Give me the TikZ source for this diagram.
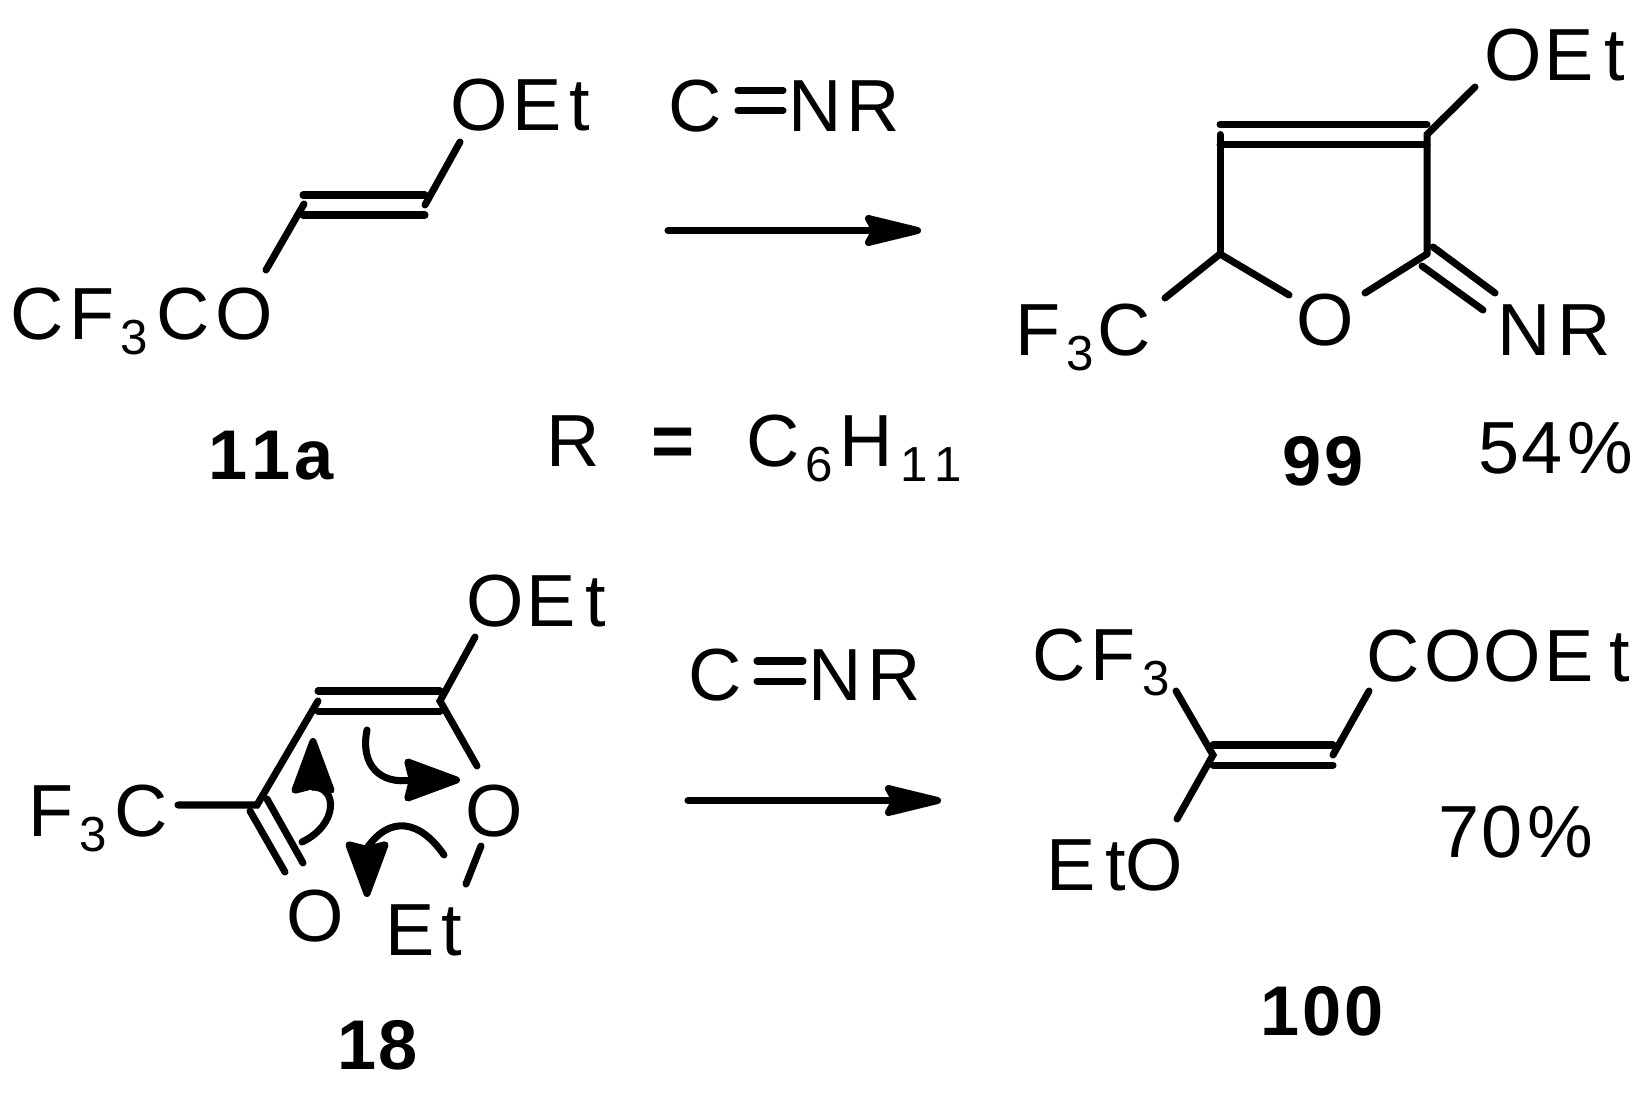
\documentclass[tikz,border=0pt]{standalone}
\usepackage{fontspec}
\setmainfont{Liberation Sans}
\usetikzlibrary{arrows.meta}
\newdimen\pxunit
\pxunit=0.01cm
\newcommand{\lgap}[1]{\kern#1\pxunit}
\newcommand{\lowdigit}[1]{\raisebox{-15\pxunit}{\fontsize{14}{16}\selectfont #1}}
\newcommand{\eqbond}[2]{%
  \draw[bond] ([yshift=1mm]#1) -- ([yshift=1mm]#2);
  \draw[bond] ([yshift=-1mm]#1) -- ([yshift=-1mm]#2);
}
\tikzset{
  bond/.style={line width=2pt,line cap=round},
  rxn/.style={line width=2pt,line cap=round,-{Stealth[length=20pt,width=9.5pt,inset=2.5pt,round]}},
  curl/.style={line width=2pt,line cap=round,-{Stealth[length=18pt,width=13pt,inset=1.5pt,round]}},
  atom/.style={anchor=base west},
  cmpd/.style={anchor=base,font=\fontsize{20}{24}\selectfont\bfseries}
}
\begin{document}
\begin{tikzpicture}[
      x=0.01cm,y=-0.01cm,
      every node/.style={inner sep=0pt,font=\fontsize{21}{25}\selectfont}
    ]
      \useasboundingbox (0,0) rectangle (1652,1103);

      \node[atom] (oetA) at (449.4,130) {O\lgap{5}E\lgap{8}t};
      \node[atom] (cfA) at (9.6,339) {C\lgap{6}F\lgap{6}\lowdigit{3}\lgap{8}C\lgap{6}O};
      \node[cmpd] (labelA) at (271,479) {1\lgap{4}1\lgap{4}a};
      \coordinate (oetAb) at (460,142);
      \coordinate (vA1) at (425,205);
      \coordinate (vA2) at (303,205);
      \coordinate (vA3) at (304,204);
      \coordinate (cfAb) at (266,270);
      \draw[bond] (oetAb) -- (vA1);
      \draw[bond] (vA3) -- (cfAb);
      \eqbond{vA2}{vA1}

      \node[atom] (isoAc) at (668,131) {C};
      \node[atom] (isoAn) at (787.5,131) {N\lgap{5}R};
      \coordinate (isoAl) at (738,100.5);
      \coordinate (isoAr) at (783,100.5);
      \eqbond{isoAl}{isoAr}
      \coordinate (arrAs) at (668,230.5);
      \coordinate (arrAe) at (921,230.5);
      \draw[rxn] (arrAs) -- (arrAe);

      \node[atom] (rdef) at (546,466) {R};
      \node[atom] (rdefeq) at (651,466) {\bfseries =};
      \node[atom] (rdefval) at (745.5,466) {C\lgap{6}\lowdigit{6}\lgap{7}H\lgap{7}\lowdigit{1\lgap{7}1}};

      \node[atom] (oetB) at (1483.4,80) {O\lgap{3}E\lgap{11}t};
      \node[atom] (cfB) at (1015,355) {F\lgap{5.5}\lowdigit{3}\lgap{4}C};
      \node[atom] (oB) at (1295.4,345) {O};
      \node[atom] (nrB) at (1496.4,355) {N\lgap{7}R};
      \node[cmpd] (labelB) at (1323.5,485) {9\lgap{3}9};
      \node[atom] (yieldB) at (1478,473) {5\lgap{2}4\lgap{5}\%};
      \coordinate (vB1) at (1220,134.5);
      \coordinate (vB2) at (1427,134.5);
      \coordinate (vB3) at (1220,254);
      \coordinate (vB4) at (1427,254);
      \coordinate (oetBb) at (1475,87);
      \coordinate (cfBb) at (1165,298);
      \coordinate (oBl) at (1289,295);
      \coordinate (oBr) at (1365,293);
      \eqbond{vB1}{vB2}
      \draw[bond] (oetBb) -- (vB2) -- (vB4);
      \draw[bond] (vB1) -- (vB3);
      \draw[bond] (cfBb) -- (vB3) -- (oBl);
      \draw[bond] (oBr) -- (vB4);
      \coordinate (imB1) at (1433,247);
      \coordinate (imB2) at (1495,293);
      \coordinate (imB3) at (1422,266);
      \coordinate (imB4) at (1483,310);
      \draw[bond] (imB1) -- (imB2);
      \draw[bond] (imB3) -- (imB4);

      \node[atom] (oetC) at (465.4,626) {O\lgap{3}E\lgap{10}t};
      \node[atom] (cfC) at (28,836) {F\lgap{5.5}\lowdigit{3}\lgap{8}C};
      \node[atom] (oC) at (465,836) {O};
      \node[atom] (okC) at (285.4,941) {O};
      \node[atom] (etC) at (385,955) {E\lgap{7}t};
      \node[cmpd] (labelC) at (378,1069) {1\lgap{2}8};
      \coordinate (vC1) at (318,701);
      \coordinate (vC2) at (440,701);
      \coordinate (vC3) at (257,805);
      \coordinate (oetCb) at (475,637);
      \coordinate (oCa) at (477,766);
      \coordinate (cfCb) at (178,805);
      \coordinate (oCb) at (481,846);
      \coordinate (etCb) at (466,884);
      \eqbond{vC1}{vC2}
      \draw[bond] (oetCb) -- (vC2) -- (oCa);
      \draw[bond] (vC1) -- (vC3) -- (cfCb);
      \draw[bond] (oCb) -- (etCb);
      \coordinate (okC1) at (267,799);
      \coordinate (okC2) at (303,863);
      \coordinate (okC3) at (250,811);
      \coordinate (okC4) at (285,872);
      \draw[bond] (okC1) -- (okC2);
      \draw[bond] (okC3) -- (okC4);
      \coordinate (curlAs) at (302,842);
      \coordinate (curlAn) at (313,787);
      \coordinate (curlAt) at (313,738);
      \coordinate (curlBs) at (367,730);
      \coordinate (curlBn) at (412,780);
      \coordinate (curlBt) at (460,780);
      \coordinate (curlCs) at (444,855);
      \coordinate (curlCn) at (367,848);
      \coordinate (curlCt) at (367,897);
      \draw[curl] (curlAs) .. controls (338,825) and (338,787) .. (curlAn) -- (curlAt);
      \draw[curl] (curlBs) .. controls (360,765) and (380,785) .. (curlBn) -- (curlBt);
      \draw[curl] (curlCs) .. controls (420,820) and (390,815) .. (curlCn) -- (curlCt);

      \node[atom] (isoCc) at (687.4,700) {C};
      \node[atom] (isoCn) at (807.4,700) {N\lgap{6}R};
      \coordinate (isoCl) at (757,671);
      \coordinate (isoCr) at (803,671);
      \eqbond{isoCl}{isoCr}
      \coordinate (arrCs) at (688,800.5);
      \coordinate (arrCe) at (941,800.5);
      \draw[rxn] (arrCs) -- (arrCe);

      \node[atom] (cfD) at (1032,680) {C\lgap{5}F\lgap{6.5}\lowdigit{3}};
      \node[atom] (cooD) at (1365.4,681) {C\lgap{5.6}O\lgap{1.4}O\lgap{3}E\lgap{16}t};
      \node[atom] (etoD) at (1046,890) {E\lgap{10}t\lgap{-1}O};
      \node[atom] (yieldD) at (1438,857) {7\lgap{2}0\lgap{5}\%};
      \node[cmpd] (labelD) at (1322,1035) {1\lgap{3}0\lgap{3}0};
      \coordinate (vD1) at (1213,755);
      \coordinate (vD2) at (1333,755);
      \coordinate (cfDb) at (1176,691);
      \coordinate (etoDb) at (1177,819);
      \coordinate (cooDb) at (1369,691);
      \eqbond{vD1}{vD2}
      \draw[bond] (cfDb) -- (vD1) -- (etoDb);
      \draw[bond] (cooDb) -- (vD2);
    \end{tikzpicture}
\end{document}
